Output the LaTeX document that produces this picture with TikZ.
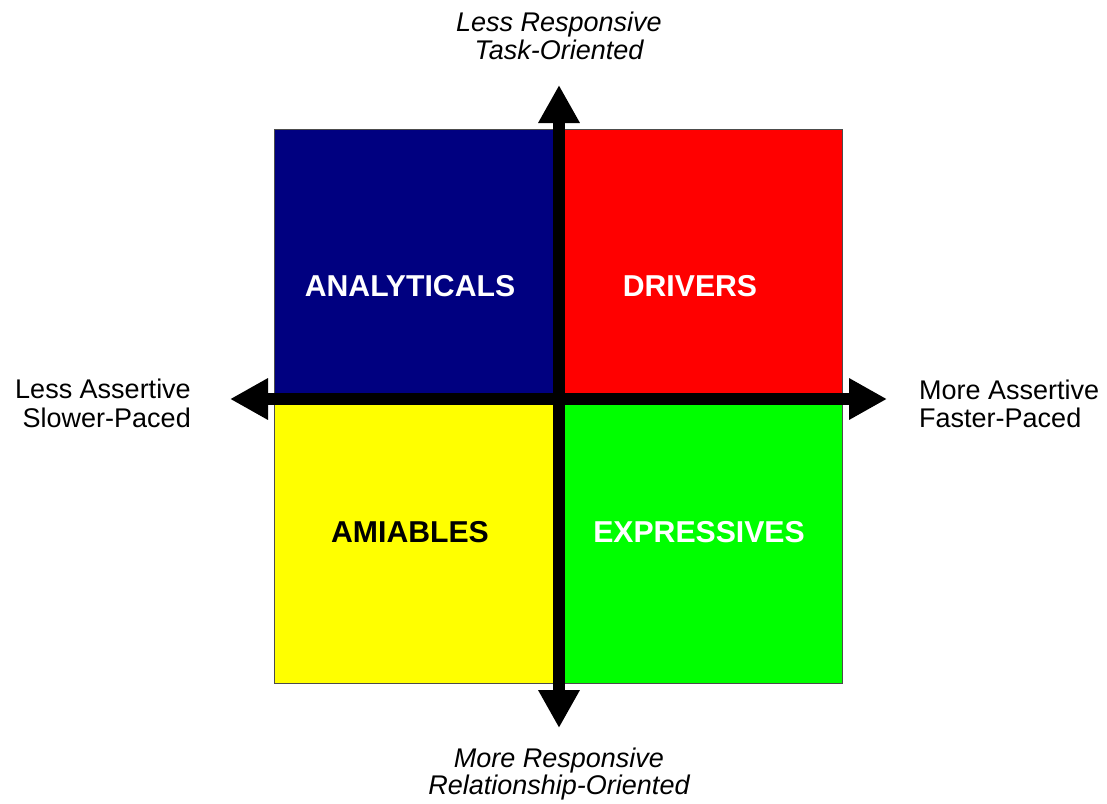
\documentclass[tikz,border=0pt]{standalone}
\usepackage{fontspec}
\setmainfont{Liberation Sans}
\usetikzlibrary{arrows.meta}
\definecolor{qnavy}{RGB}{0,0,128}
\definecolor{qred}{RGB}{255,0,0}
\definecolor{qyellow}{RGB}{255,255,0}
\definecolor{qgreen}{RGB}{0,255,0}
\begin{document}
\begin{tikzpicture}[x=1pt,y=-1pt,
  quad/.style={draw=black!70, line width=1pt, inner sep=0pt, minimum width=285pt, minimum height=270pt, anchor=north west},
  qlabel/.style={font=\fontsize{30.2}{32}\selectfont\bfseries, anchor=base, inner sep=0pt},
  axlabel/.style={font=\fontsize{27}{28}\selectfont, inner sep=0pt},
  axarrow/.style={line width=12pt, {Triangle[width=39pt,length=38pt]}-{Triangle[width=39pt,length=38pt]}}
]
\useasboundingbox (0,0) rectangle (1107,803);
\fill[white] (0,0) rectangle (1107,803);
% quadrants
\node[quad, fill=qnavy, minimum width=285pt, minimum height=270pt] (tl) at (274,129) {};
\node[quad, fill=qred, minimum width=283pt, minimum height=270pt] (tr) at (559,129) {};
\node[quad, fill=qyellow, minimum width=285pt, minimum height=284pt] (bl) at (274,399) {};
\node[quad, fill=qgreen, minimum width=283pt, minimum height=284pt] (br) at (559,399) {};
% quadrant labels
\node[qlabel, text=white] (ana) at (410,296) {ANALYTICALS};
\node[qlabel, text=white] (drv) at (690,296) {DRIVERS};
\node[qlabel, text=black] (ami) at (410,542) {AMIABLES};
\node[qlabel, text=white] (exp) at (699,542) {EXPRESSIVES};
% axes
\coordinate (N) at (559,85);
\coordinate (S) at (559,728);
\coordinate (W) at (230,399);
\coordinate (E) at (887,399);
\draw[axarrow] (S) -- (N);
\draw[axarrow] (W) -- (E);
% axis labels (base anchor = baseline of last line)
\node[axlabel, align=center, anchor=base, font=\fontsize{27}{27.5}\selectfont\itshape] (top) at (559,59) {Less Responsive\\Task-Oriented};
\node[axlabel, align=center, anchor=base, font=\fontsize{27}{25}\selectfont\itshape] (bot) at (559,794) {More Responsive\\Relationship-Oriented};
\node[axlabel, align=right, anchor=base east, font=\fontsize{27}{29}\selectfont] (lft) at (191,427) {Less Assertive\\Slower-Paced};
\node[axlabel, align=left, anchor=base west, font=\fontsize{27}{28}\selectfont] (rgt) at (919,427) {More Assertive\\Faster-Paced};
\end{tikzpicture}
\end{document}
